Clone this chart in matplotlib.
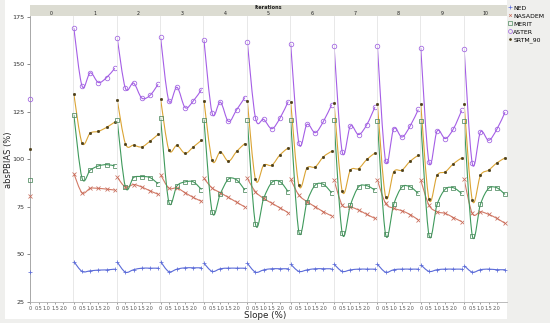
import numpy as np
import matplotlib
matplotlib.use('Agg')
import matplotlib.pyplot as plt
from matplotlib.path import Path
from matplotlib.patches import PathPatch, Rectangle

# slope classes (%) and iteration panels
slope = [0, 0.5, 1.0, 1.5, 2.0, 2.5]
iterations = list(range(11))
slope_ticks = [0, 0.5, 1.0, 1.5, 2.0]
slope_labels = ['0', '0.5', '1.0', '1.5', '2.0']
y_ticks = [25, 50, 75, 100, 125, 150, 175]

# absPBIAS per iteration; iteration 0 has only one value (slope 0)
ned = [[41.0],
       [46.3, 41.1, 41.4, 41.8, 41.9, 42.3],
       [46.0, 40.7, 42.0, 42.8, 42.8, 42.8],
       [46.3, 41.0, 42.3, 43.0, 43.0, 43.0],
       [45.4, 41.1, 42.5, 42.8, 42.8, 42.8],
       [45.4, 40.7, 41.9, 42.5, 42.5, 42.5],
       [44.9, 41.1, 41.9, 42.5, 42.5, 42.5],
       [44.9, 41.1, 41.9, 42.3, 42.3, 42.3],
       [44.9, 40.7, 42.0, 42.3, 42.3, 42.3],
       [44.6, 41.1, 42.0, 42.3, 42.3, 42.3],
       [44.2, 40.7, 42.0, 42.3, 42.0, 42.0]]
nasadem = [[81.0],
           [92.6, 82.5, 84.8, 84.8, 84.4, 83.9],
           [90.7, 85.5, 86.8, 85.5, 83.5, 81.7],
           [92.0, 85.0, 85.0, 82.5, 80.0, 78.0],
           [90.0, 85.0, 82.5, 80.0, 77.5, 75.0],
           [90.0, 83.0, 79.5, 77.0, 74.5, 72.0],
           [89.5, 81.3, 77.8, 75.1, 72.5, 70.3],
           [89.1, 76.0, 75.1, 73.4, 71.1, 69.0],
           [89.1, 76.9, 74.3, 73.0, 71.0, 68.2],
           [89.1, 76.0, 72.5, 71.6, 69.4, 67.3],
           [89.5, 71.6, 72.5, 71.1, 69.0, 66.4]]
merit = [[89.0],
         [123.5, 90.2, 94.4, 96.6, 97.3, 96.6],
         [120.6, 85.5, 90.5, 91.0, 90.5, 87.2],
         [122.0, 77.8, 86.1, 88.2, 88.2, 84.2],
         [121.0, 72.5, 82.0, 89.7, 89.2, 83.9],
         [120.9, 65.9, 79.5, 87.9, 88.3, 83.0],
         [120.6, 62.0, 77.8, 86.5, 86.9, 82.5],
         [120.6, 61.2, 76.0, 85.6, 86.2, 83.9],
         [120.2, 60.6, 76.5, 85.5, 85.6, 82.1],
         [120.0, 60.3, 76.4, 84.4, 85.1, 82.1],
         [120.0, 59.9, 76.5, 84.8, 85.1, 81.6]]
aster = [[131.7],
         [169.1, 138.7, 145.6, 140.5, 143.1, 148.0],
         [163.9, 137.5, 140.2, 132.3, 133.7, 139.6],
         [164.2, 131.0, 138.0, 127.3, 130.8, 136.8],
         [162.8, 124.4, 130.2, 120.0, 126.2, 132.6],
         [162.0, 121.8, 121.1, 116.2, 121.8, 130.5],
         [160.8, 108.7, 118.5, 114.1, 120.0, 128.8],
         [159.9, 104.0, 117.6, 113.1, 118.3, 127.6],
         [159.5, 99.3, 116.2, 111.8, 117.6, 126.3],
         [158.7, 98.7, 115.0, 111.0, 116.2, 125.8],
         [158.1, 97.9, 114.5, 110.1, 115.9, 124.9]]
srtm = [[105.3],
        [134.4, 108.7, 113.9, 114.8, 116.9, 119.7],
        [131.4, 108.3, 107.5, 106.6, 109.6, 113.2],
        [131.9, 105.2, 107.4, 103.2, 106.6, 110.1],
        [131.0, 99.6, 104.0, 99.1, 104.3, 108.4],
        [131.0, 89.5, 97.0, 97.0, 102.5, 106.1],
        [130.5, 86.5, 95.6, 96.1, 101.4, 104.3],
        [129.8, 83.4, 94.4, 95.2, 100.0, 103.4],
        [129.3, 80.4, 93.5, 94.4, 99.1, 102.2],
        [129.3, 79.2, 91.7, 93.5, 97.8, 100.8],
        [129.3, 78.6, 91.7, 94.4, 98.2, 100.8]]

# name, data, line colour, marker, marker face, marker edge, size
series = [
    ('NED', ned, '#5b6bd8', '+', 'none', '#5b6bd8', 3.5),
    ('NASADEM', nasadem, '#d27a66', 'x', 'none', '#c86a58', 2.2),
    ('MERIT', merit, '#3f9a5c', 's', 'none', '#4f8a60', 3.0),
    ('ASTER', aster, '#a55ee6', 'o', 'none', '#9f62e0', 3.3),
    ('SRTM_90', srtm, '#dba434', 'o', '#4d3f18', '#4d3f18', 1.6),
]


def smooth_path(x, y):
    # catmull-rom style bezier through the points
    pts = np.column_stack([x, y]).astype(float)
    n = len(pts)
    verts = [pts[0]]
    codes = [Path.MOVETO]
    for i in range(n - 1):
        p0 = pts[max(i - 1, 0)]
        p1 = pts[i]
        p2 = pts[i + 1]
        p3 = pts[min(i + 2, n - 1)]
        verts += [p1 + (p2 - p0) / 6, p2 - (p3 - p1) / 6, p2]
        codes += [Path.CURVE4] * 3
    return Path(verts, codes)


W, H = 550, 323
fig = plt.figure(figsize=(W / 100, H / 100), dpi=100, facecolor='#efefed')
fig.patches.append(Rectangle((5 / W, 1 - 319 / H), 502 / W, 319 / H,
                             transform=fig.transFigure, facecolor='white',
                             edgecolor='none', zorder=-1))

left, right, top, bottom = 30, 507, 16, 302
pw = (right - left) / len(iterations)
axes = []
for i in iterations:
    ax = fig.add_axes([(left + i * pw) / W, 1 - bottom / H, pw / W, (bottom - top) / H])
    ax.set_facecolor('white')
    ax.set_xlim(-0.03, 2.62)
    ax.set_ylim(25, 175.5)
    ax.set_xticks(slope_ticks)
    ax.set_xticklabels(slope_labels, fontsize=3.5)
    ax.tick_params(axis='x', length=1.5, width=0.4, pad=1.2, colors='#555555')
    for s in ['top', 'right']:
        ax.spines[s].set_visible(False)
    ax.spines['bottom'].set_color('#b0b0b0')
    ax.spines['bottom'].set_linewidth(0.6)
    if i == 0:
        ax.set_yticks(y_ticks)
        ax.tick_params(axis='y', labelsize=4.6, length=2, width=0.4, pad=2, colors='#333333')
        ax.spines['left'].set_color('#9a9a9a')
        ax.spines['left'].set_linewidth(0.6)
    else:
        ax.set_yticks([])
        ax.spines['left'].set_color('#e4e4e4')
        ax.spines['left'].set_linewidth(0.6)

    for name, data, lc, mk, mfc, mec, ms in series:
        vals = data[i]
        xs = slope[:len(vals)]
        if len(vals) > 1:
            ax.add_patch(PathPatch(smooth_path(xs, vals), facecolor='none',
                                   edgecolor=lc, lw=0.8, zorder=2))
        ax.plot(xs, vals, linestyle='none', marker=mk, ms=ms, mfc=mfc, mec=mec,
                mew=0.55, zorder=3, clip_on=False)
    axes.append(ax)

# header strip
hax = fig.add_axes([left / W, 1 - top / H, (right - left) / W, 11 / H])
hax.set_xlim(0, len(iterations))
hax.set_ylim(0, 1)
hax.set_facecolor('#dcdcd2')
hax.set_xticks([])
hax.set_yticks([])
for s in hax.spines.values():
    s.set_visible(False)
hax.text(len(iterations) / 2, 0.78, 'Iterations', ha='center', va='center',
         fontsize=3.6, fontweight='bold', color='#222222')
for i in iterations:
    hax.text(i + 0.5, 0.27, str(i), ha='center', va='center', fontsize=3.4, color='#222222')

fig.text(8.5 / W, 1 - 160 / H, 'absPBIAS (%)', rotation=90, ha='center', va='center',
         fontsize=6.0, color='#222222')
fig.text(265 / W, 1 - 315.5 / H, 'Slope (%)', ha='center', va='center',
         fontsize=6.3, color='#222222')

# legend
handles = [plt.Line2D([], [], linestyle='none', marker=mk, ms=ms * 0.85, mfc=mfc, mec=mec, mew=0.5)
           for name, data, lc, mk, mfc, mec, ms in series]
labels = [s[0] for s in series]
fig.legend(handles, labels, loc='upper left', bbox_to_anchor=(507 / W, 1 - 4 / H),
           frameon=False, fontsize=4.4, handlelength=0.6, handletextpad=0.25,
           labelspacing=0.45, borderpad=0.2, borderaxespad=0.0)

fig.savefig('out.png', dpi=100, facecolor=fig.get_facecolor())
